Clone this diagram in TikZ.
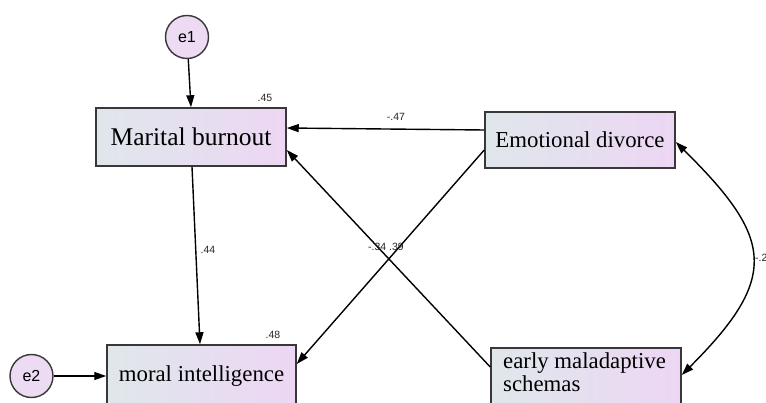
\documentclass[tikz,border=0pt]{standalone}
\usepackage{fontspec}
\setmainfont{Liberation Serif}
\newfontfamily\lsans{Liberation Sans}
\usetikzlibrary{arrows.meta,calc}
\definecolor{boxleft}{HTML}{DFE7EB}
\definecolor{boxright}{HTML}{EDD6F4}
\definecolor{errfill}{HTML}{ECDBF3}
\definecolor{edgegray}{HTML}{383838}
\tikzset{
  varbox/.style={draw=edgegray, line width=1.5pt, shading=axis, left color=boxleft, right color=boxright, inner sep=0pt, font=\fontsize{22.8}{23}\selectfont},
  errc/.style={circle, draw=edgegray, line width=1.4pt, fill=errfill, minimum size=43pt, inner sep=0pt, font=\lsans\fontsize{16}{16}\selectfont},
  path/.style={line width=1.4pt, -{Triangle[length=12pt,width=8pt]}},
  coef/.style={font=\lsans\fontsize{10.5}{10.5}\selectfont, text=black!85, inner sep=0pt}
}
\begin{document}
\begin{tikzpicture}[x=1pt,y=-1pt]
\useasboundingbox (0,0) rectangle (766,403);
\node[varbox, minimum width=190pt, minimum height=58pt, font=\fontsize{25.5}{26}\selectfont] (mb) at (191,137) {Marital burnout};
\node[varbox, minimum width=190pt, minimum height=56pt] (ed) at (580,140) {Emotional divorce};
\node[varbox, minimum width=189pt, minimum height=62pt] (mi) at (201.5,376) {moral intelligence};
\node[varbox, minimum width=190pt, minimum height=64pt] (ems) at (586,380) {};
\node[anchor=north west, align=left, inner sep=0pt, font=\fontsize{22.8}{23}\selectfont] (emstext) at (503,352) {early maladaptive\\schemas};
\node[errc] (e1) at (187,37) {e1};
\node[errc] (e2) at (31.5,376) {e2};
\draw[path] (e1) -- (mb.north);
\draw[path] (e2) -- (mi.west);
\draw[path] ([yshift=10pt]ed.west) -- ([yshift=9pt]mb.east);
\draw[path] ([yshift=-10pt]ed.west) -- ([yshift=12pt]mi.east);
\draw[path] ([yshift=13pt]ems.west) -- ([yshift=-13pt]mb.east);
\draw[path] ([xshift=1pt]mb.south) -- ([xshift=-1.5pt]mi.north);
\draw[line width=1.4pt, {Triangle[length=12pt,width=8pt]}-{Triangle[length=12pt,width=8pt]}]
  ([yshift=-2pt]ed.east) .. controls (773,238) and (780,277) .. ([yshift=5pt]ems.east);
\node[coef] (r1) at (265,98) {.45};
\node[coef] (r2) at (273,335) {.48};
\node[coef] (c1) at (396,117) {-.47};
\node[coef] (c2) at (208,250) {.44};
\node[coef] (c3) at (386,247) {-.34 .39};
\node[coef, anchor=west] (c4) at (755,258) {-.2};
\end{tikzpicture}
\end{document}
